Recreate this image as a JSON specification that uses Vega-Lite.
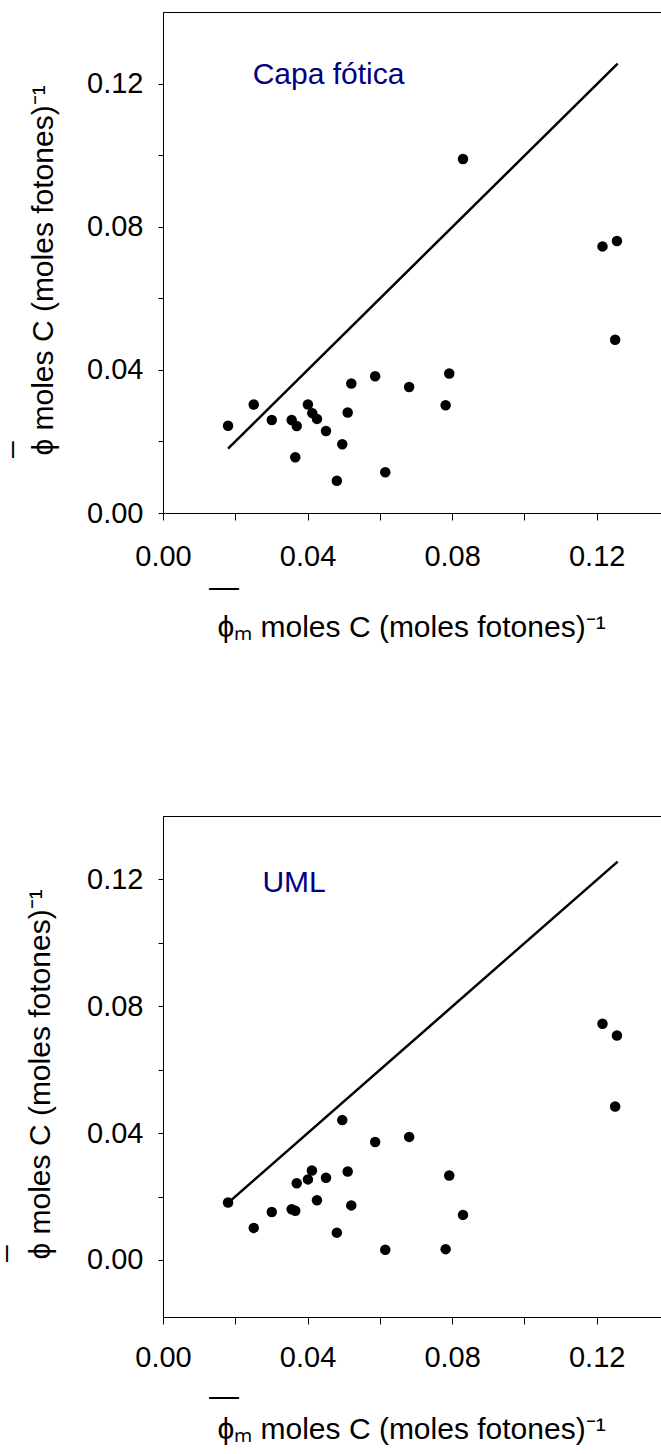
{
  "$schema": "https://vega.github.io/schema/vega-lite/v6.json",
  "autosize": {"type": "none"},
  "padding": {"left": 163, "top": 12, "right": 498, "bottom": 1442},
  "background": "white",
  "spacing": 303,
  "bounds": "flush",
  "config": {
    "view": {"stroke": "black", "strokeWidth": 1},
    "axis": {
      "grid": false,
      "domainColor": "black",
      "domainWidth": 1,
      "tickColor": "black",
      "tickWidth": 1,
      "labelColor": "black",
      "labelFont": "Liberation Sans",
      "labelFontSize": 29,
      "titleFont": "Liberation Sans",
      "titleFontSize": 30,
      "titleFontWeight": "normal",
      "titleColor": "black",
      "labelFlush": false,
      "labelOverlap": false,
      "labelBound": false
    },
    "axisX": {"tickSize": 7, "labelPadding": 22},
    "axisY": {"tickSize": 5, "labelPadding": 15}
  },
  "vconcat": [
    {
      "width": 506,
      "height": 501,
      "layer": [
        {
          "data": {"values": [{"x": 0.018, "y": 0.018}, {"x": 0.1258, "y": 0.1256}]},
          "mark": {"type": "line", "color": "black", "strokeWidth": 2.5},
          "encoding": {
            "x": {
              "field": "x", "type": "quantitative",
              "scale": {"domain": [0, 0.14], "nice": false, "zero": false},
              "axis": {
                "values": [0, 0.02, 0.04, 0.06, 0.08, 0.1, 0.12],
                "format": ".2f",
                "labelExpr": "round(datum.value*100) % 4 == 0 ? datum.label : ''",
                "title": ["—\u00a0\u00a0\u00a0\u00a0\u00a0\u00a0\u00a0\u00a0\u00a0\u00a0\u00a0\u00a0\u00a0\u00a0\u00a0\u00a0\u00a0\u00a0\u00a0\u00a0\u00a0\u00a0\u00a0\u00a0\u00a0\u00a0\u00a0\u00a0\u00a0\u00a0\u00a0\u00a0\u00a0\u00a0\u00a0\u00a0\u00a0\u00a0\u00a0\u00a0\u00a0\u00a0\u00a0\u00a0\u00a0\u200b", "ϕₘ moles C (moles fotones)⁻¹"],
                "titleX": 248,
                "titleY": 83.6,
                "titleBaseline": "alphabetic",
                "titleAlign": "center",
                "titleLineHeight": 40.4
              }
            },
            "y": {
              "field": "y", "type": "quantitative",
              "scale": {"domain": [0, 0.14], "nice": false, "zero": false},
              "axis": {
                "values": [0, 0.02, 0.04, 0.06, 0.08, 0.1, 0.12],
                "format": ".2f",
                "labelExpr": "round(datum.value*100) % 4 == 0 ? datum.label : ''",
                "title": ["–\u00a0\u00a0\u00a0\u00a0\u00a0\u00a0\u00a0\u00a0\u00a0\u00a0\u00a0\u00a0\u00a0\u00a0\u00a0\u00a0\u00a0\u00a0\u00a0\u00a0\u00a0\u00a0\u00a0\u00a0\u00a0\u00a0\u00a0\u00a0\u00a0\u00a0\u00a0\u00a0\u00a0\u00a0\u00a0\u00a0\u00a0\u00a0\u00a0\u00a0\u00a0\u00a0\u00a0\u200b", "ϕ moles C (moles fotones)⁻¹"],
                "titleAngle": 270,
                "titleX": -142.4,
                "titleY": 258,
                "titleBaseline": "alphabetic",
                "titleAlign": "center",
                "titleLineHeight": 32.4
              }
            }
          }
        },
        {
          "data": {"values": [
            {"x": 0.018, "y": 0.0244}, {"x": 0.0251, "y": 0.0303}, {"x": 0.0301, "y": 0.026},
            {"x": 0.0356, "y": 0.026}, {"x": 0.037, "y": 0.0243}, {"x": 0.0366, "y": 0.0156},
            {"x": 0.0401, "y": 0.0303}, {"x": 0.0413, "y": 0.0279}, {"x": 0.0426, "y": 0.0263},
            {"x": 0.0451, "y": 0.0229}, {"x": 0.0481, "y": 0.009}, {"x": 0.0496, "y": 0.0192},
            {"x": 0.0511, "y": 0.0281}, {"x": 0.0521, "y": 0.0362}, {"x": 0.0587, "y": 0.0382},
            {"x": 0.0615, "y": 0.0114}, {"x": 0.0681, "y": 0.0352}, {"x": 0.0782, "y": 0.0301},
            {"x": 0.0792, "y": 0.039}, {"x": 0.083, "y": 0.0989}, {"x": 0.1216, "y": 0.0745},
            {"x": 0.1256, "y": 0.076}, {"x": 0.1251, "y": 0.0484}
          ]},
          "mark": {"type": "circle", "size": 110, "color": "black", "opacity": 1},
          "encoding": {
            "x": {"field": "x", "type": "quantitative"},
            "y": {"field": "y", "type": "quantitative"}
          }
        },
        {
          "data": {"values": [{"x": 0.0248, "y": 0.12, "etiqueta": "Capa fótica"}]},
          "mark": {"type": "text", "align": "left", "baseline": "alphabetic", "font": "Liberation Sans", "fontSize": 30, "color": "#000080"},
          "encoding": {
            "x": {"field": "x", "type": "quantitative"},
            "y": {"field": "y", "type": "quantitative"},
            "text": {"field": "etiqueta"}
          }
        }
      ]
    },
    {
      "width": 506,
      "height": 501,
      "layer": [
        {
          "data": {"values": [{"x": 0.018, "y": 0.018}, {"x": 0.1258, "y": 0.1256}]},
          "mark": {"type": "line", "color": "black", "strokeWidth": 2.5},
          "encoding": {
            "x": {
              "field": "x", "type": "quantitative",
              "scale": {"domain": [0, 0.14], "nice": false, "zero": false},
              "axis": {
                "values": [0, 0.02, 0.04, 0.06, 0.08, 0.1, 0.12],
                "format": ".2f",
                "labelExpr": "round(datum.value*100) % 4 == 0 ? datum.label : ''",
                "labelPadding": 19,
                "title": ["—\u00a0\u00a0\u00a0\u00a0\u00a0\u00a0\u00a0\u00a0\u00a0\u00a0\u00a0\u00a0\u00a0\u00a0\u00a0\u00a0\u00a0\u00a0\u00a0\u00a0\u00a0\u00a0\u00a0\u00a0\u00a0\u00a0\u00a0\u00a0\u00a0\u00a0\u00a0\u00a0\u00a0\u00a0\u00a0\u00a0\u00a0\u00a0\u00a0\u00a0\u00a0\u00a0\u00a0\u00a0\u00a0\u200b", "ϕₘ moles C (moles fotones)⁻¹"],
                "titleX": 248,
                "titleY": 88.3,
                "titleBaseline": "alphabetic",
                "titleAlign": "center",
                "titleLineHeight": 33
              }
            },
            "y": {
              "field": "y", "type": "quantitative",
              "scale": {"domain": [-0.018, 0.14], "nice": false, "zero": false},
              "axis": {
                "values": [0, 0.02, 0.04, 0.06, 0.08, 0.1, 0.12],
                "format": ".2f",
                "labelExpr": "round(datum.value*100) % 4 == 0 ? datum.label : ''",
                "title": ["–\u00a0\u00a0\u00a0\u00a0\u00a0\u00a0\u00a0\u00a0\u00a0\u00a0\u00a0\u00a0\u00a0\u00a0\u00a0\u00a0\u00a0\u00a0\u00a0\u00a0\u00a0\u00a0\u00a0\u00a0\u00a0\u00a0\u00a0\u00a0\u00a0\u00a0\u00a0\u00a0\u00a0\u00a0\u00a0\u00a0\u00a0\u00a0\u00a0\u00a0\u00a0\u00a0\u00a0\u200b", "ϕ moles C (moles fotones)⁻¹"],
                "titleAngle": 270,
                "titleX": -149,
                "titleY": 258,
                "titleBaseline": "alphabetic",
                "titleAlign": "center",
                "titleLineHeight": 35
              }
            }
          }
        },
        {
          "data": {"values": [
            {"x": 0.018, "y": 0.0181}, {"x": 0.0251, "y": 0.0101}, {"x": 0.0301, "y": 0.0151},
            {"x": 0.0356, "y": 0.016}, {"x": 0.0366, "y": 0.0155}, {"x": 0.037, "y": 0.0242},
            {"x": 0.0401, "y": 0.0254}, {"x": 0.0412, "y": 0.0282}, {"x": 0.0426, "y": 0.0188},
            {"x": 0.0451, "y": 0.0259}, {"x": 0.0481, "y": 0.0086}, {"x": 0.0496, "y": 0.0441},
            {"x": 0.0511, "y": 0.0279}, {"x": 0.0521, "y": 0.0172}, {"x": 0.0587, "y": 0.0372},
            {"x": 0.0615, "y": 0.0032}, {"x": 0.0681, "y": 0.0388}, {"x": 0.0782, "y": 0.0034},
            {"x": 0.0792, "y": 0.0266}, {"x": 0.083, "y": 0.0142}, {"x": 0.1216, "y": 0.0745},
            {"x": 0.1256, "y": 0.0708}, {"x": 0.1251, "y": 0.0484}
          ]},
          "mark": {"type": "circle", "size": 110, "color": "black", "opacity": 1},
          "encoding": {
            "x": {"field": "x", "type": "quantitative"},
            "y": {"field": "y", "type": "quantitative"}
          }
        },
        {
          "data": {"values": [{"x": 0.0275, "y": 0.1159, "etiqueta": "UML"}]},
          "mark": {"type": "text", "align": "left", "baseline": "alphabetic", "font": "Liberation Sans", "fontSize": 30, "color": "#000080"},
          "encoding": {
            "x": {"field": "x", "type": "quantitative"},
            "y": {"field": "y", "type": "quantitative"},
            "text": {"field": "etiqueta"}
          }
        }
      ]
    }
  ]
}
